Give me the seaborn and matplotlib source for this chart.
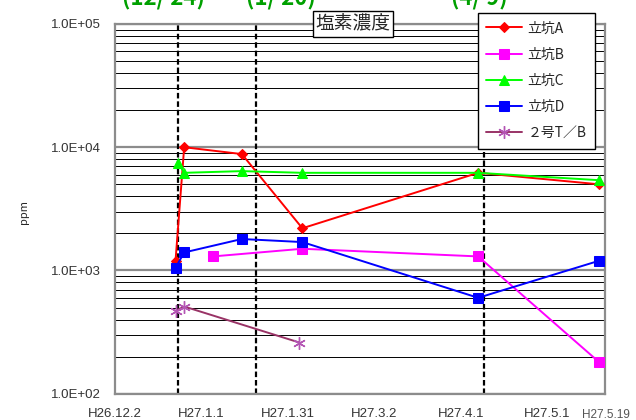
import matplotlib
matplotlib.use("Agg")
import matplotlib.pyplot as plt
import matplotlib.dates as mdates
from matplotlib.ticker import LogLocator, FixedLocator, NullFormatter, FuncFormatter
import pandas as pd
import seaborn as sns

# --- data -------------------------------------------------------------
series_names = ["立坑A", "立坑B", "立坑C", "立坑D", "２号T／B"]

dates_a = ["2014-12-23", "2014-12-26", "2015-01-15", "2015-02-05", "2015-04-07", "2015-05-19"]
ppm_a = [1200, 10000, 8800, 2200, 6200, 5000]

dates_b = ["2015-01-05", "2015-02-05", "2015-04-07", "2015-05-19"]
ppm_b = [1300, 1500, 1300, 180]

dates_c = ["2014-12-24", "2014-12-26", "2015-01-15", "2015-02-05", "2015-04-07", "2015-05-19"]
ppm_c = [7400, 6200, 6400, 6200, 6200, 5400]

dates_d = ["2014-12-23", "2014-12-26", "2015-01-15", "2015-02-05", "2015-04-07", "2015-05-19"]
ppm_d = [1050, 1400, 1800, 1700, 600, 1200]

dates_tb = ["2014-12-23", "2014-12-26", "2015-02-04"]
ppm_tb = [470, 510, 260]

event_dates = ["2014-12-24", "2015-01-20", "2015-04-09"]
event_labels = ["(12/ 24)", "(1/ 20)", "(4/ 9)"]

tick_dates = ["2014-12-02", "2015-01-01", "2015-01-31", "2015-03-02", "2015-04-01", "2015-05-01"]
tick_labels = ["H26.12.2", "H27.1.1", "H27.1.31", "H27.3.2", "H27.4.1", "H27.5.1"]
end_label = "H27.5.19"
x_start, x_end = "2014-12-02", "2015-05-21"

title = "塩素濃度"
y_label = "ppm"

# --- styling ----------------------------------------------------------
sns.set_style("white")
plt.rcParams["font.family"] = ["Noto Sans CJK JP", "DejaVu Sans"]

styles = {
    "立坑A": dict(color="#FF0000", marker="D", markersize=5.5, mfc="#FF0000", mec="#FF0000"),
    "立坑B": dict(color="#FF00FF", marker="s", markersize=6.5, mfc="#FF00FF", mec="#FF00FF"),
    "立坑C": dict(color="#00FF00", marker="^", markersize=7.5, mfc="#00FF00", mec="#00FF00"),
    "立坑D": dict(color="#0000FF", marker="s", markersize=7, mfc="#0000FF", mec="#0000FF"),
    "２号T／B": dict(color="#993366", marker=(6, 2, 0), markersize=9, mfc="#B455B4",
                   mec="#B455B4", mew=1.0),
}

all_series = [
    (series_names[0], dates_a, ppm_a),
    (series_names[1], dates_b, ppm_b),
    (series_names[2], dates_c, ppm_c),
    (series_names[3], dates_d, ppm_d),
    (series_names[4], dates_tb, ppm_tb),
]

W, H = 636, 420
fig = plt.figure(figsize=(W / 100, H / 100), dpi=100)
left, right, top, bottom = 115, 605, 24, 393.7
ax = fig.add_axes([left / W, 1 - bottom / H, (right - left) / W, (bottom - top) / H])

# event markers (dashed verticals)
for d in event_dates:
    ax.axvline(pd.Timestamp(d), color="black", lw=1.6, ls=(0, (2.5, 1.3)), zorder=2)

for name, dts, vals in all_series:
    st = dict(styles[name])
    color = st.pop("color")
    df = pd.DataFrame({"date": pd.to_datetime(dts), "ppm": vals})
    sns.lineplot(data=df, x="date", y="ppm", ax=ax, color=color, lw=1.4,
                 label=name, zorder=4, clip_on=False, **st)

# axes scales
ax.set_yscale("log")
ax.set_ylim(100, 1e5)
ax.set_xlim(pd.Timestamp(x_start), pd.Timestamp(x_end))
ax.yaxis.set_major_locator(FixedLocator([1e2, 1e3, 1e4, 1e5]))
ax.yaxis.set_minor_locator(LogLocator(base=10, subs=range(2, 10)))
ax.yaxis.set_minor_formatter(NullFormatter())
ax.yaxis.set_major_formatter(FuncFormatter(lambda v, p: f"{v:.1E}"))
ax.grid(which="major", axis="y", color="#8C8C8C", lw=1.6, zorder=1)
ax.grid(which="minor", axis="y", color="black", lw=0.7, zorder=1)
ax.grid(which="both", axis="x", visible=False)
ax.set_axisbelow(True)

ax.set_xticks([mdates.date2num(pd.Timestamp(d)) for d in tick_dates])
ax.set_xticklabels(tick_labels)
ax.tick_params(axis="x", which="major", direction="in", length=5, width=1,
               color="#555555", pad=10, labelsize=9.5, labelcolor="#333333")
ax.tick_params(axis="y", which="both", length=0, pad=10, labelsize=9.5, labelcolor="#333333")
for lab in ax.get_xticklabels() + ax.get_yticklabels():
    lab.set_family(["Liberation Sans", "DejaVu Sans"])

for s in ax.spines.values():
    s.set_color("#8C8C8C")
    s.set_linewidth(1.6)

ax.set_xlabel("")
ax.set_ylabel("")
fig.text(24 / W, 1 - 212 / H, y_label, rotation=90, ha="center", va="center", fontsize=8)

# title box
fig.text(353 / W, 1 - 24 / H, title, ha="center", va="center", fontsize=13.5, zorder=10,
         bbox=dict(boxstyle="square,pad=0.12", fc="white", ec="black", lw=1.0))

# event labels along the top
for x_px, txt in zip([163, 281, 479], event_labels):
    fig.text(x_px / W, 1 - 5 / H, txt, ha="center", va="baseline", fontsize=16,
             fontweight="bold", color="#00A000")

# end date label at the lower right
fig.text(582 / W, 1 - 415 / H, end_label, ha="left", va="center", fontsize=8.5,
         color="#555555", family=["Liberation Sans", "DejaVu Sans"])

leg = ax.legend(loc="upper left", bbox_to_anchor=(478 / W, 1 - 13 / H),
                bbox_transform=fig.transFigure, borderaxespad=0, numpoints=1,
                frameon=True, fancybox=False, framealpha=1, edgecolor="black",
                fontsize=10, handlelength=2.6, handletextpad=0.35, labelspacing=0.88,
                borderpad=0.6)
leg.get_frame().set_linewidth(1.0)
leg.set_zorder(10)

fig.savefig("out.png", dpi=100)
